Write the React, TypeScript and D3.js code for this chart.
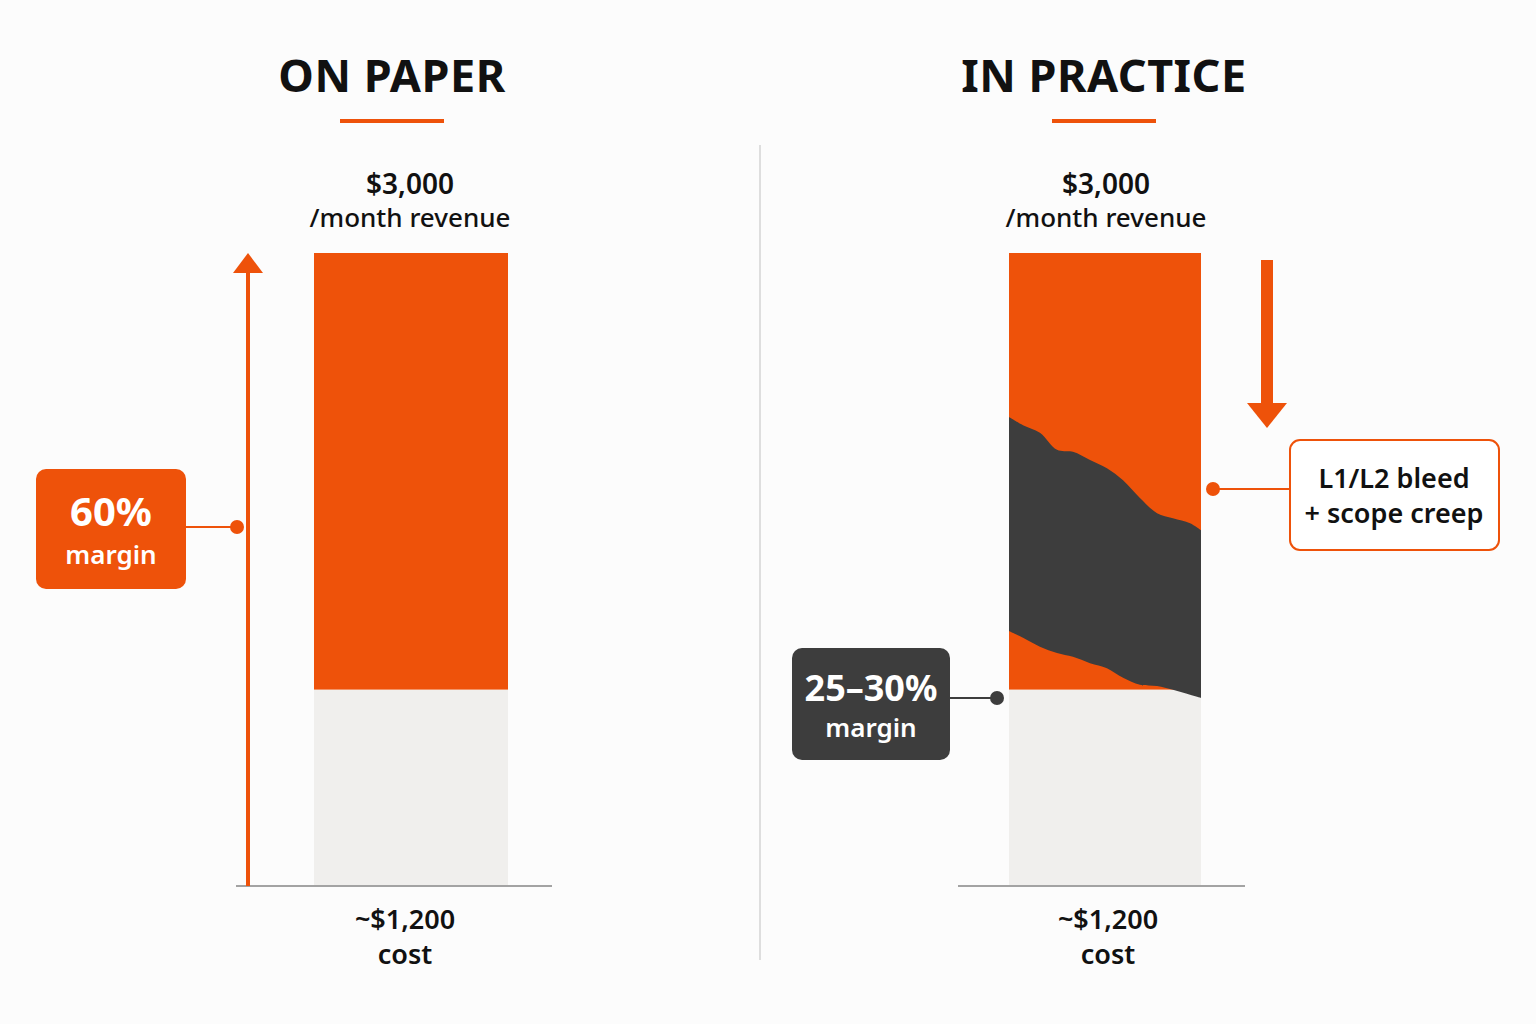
import React from "react";
import * as d3 from "d3";

// ---- data ----
const panels = ["ON PAPER", "IN PRACTICE"];
const revenueLabel = ["$3,000", "/month revenue"];
const costLabel = ["~$1,200", "cost"];
// bar composition, % of bar height
const costShare = 31;
const barTotal = 100;
const paperMargin = ["60%", "margin"];
const practiceMargin = ["25–30%", "margin"];
const leakLabel = ["L1/L2 bleed", "+ scope creep"];
// leak band edges: x as fraction of bar width, y as % of bar height
const leakX = [0, 0.073, 0.161, 0.25, 0.333, 0.422, 0.51, 0.594, 0.682, 0.771, 0.854, 0.943, 1];
const leakTop = [74.1, 72.8, 71.6, 68.9, 68.6, 67.3, 66.0, 64.1, 61.3, 58.9, 58.1, 57.3, 56.2];
const leakBottom = [40.3, 39.2, 37.8, 36.8, 36.2, 35.2, 34.4, 32.9, 31.8, 31.6, 31.0, 30.2, 29.7];

const ORANGE = "#ee520a";
const DARK = "#3d3d3d";
const LIGHT = "#f0efed";
const FONT = "'Noto Sans', 'Open Sans', sans-serif";

export default function App() {
  const W = 1536, H = 1024;
  const y = d3.scaleLinear().domain([0, barTotal]).range([886, 253]);
  const leftBar = d3.scaleLinear().domain([0, 1]).range([314, 508]);
  const rightBar = d3.scaleLinear().domain([0, 1]).range([1009, 1201]);

  const leakData = leakX.map((x, i) => ({ x, t: leakTop[i], b: leakBottom[i] }));
  const area = d3
    .area<{ x: number; t: number; b: number }>()
    .x((d) => rightBar(d.x))
    .y0((d) => y(d.b))
    .y1((d) => y(d.t))
    .curve(d3.curveCatmullRom);

  const titleX = [392, 1104];
  const labelX = [[410, 1106], [405, 1108]];

  const bar = (xs: d3.ScaleLinear<number, number>) => (
    <g>
      <rect x={xs(0)} y={y(barTotal)} width={xs(1) - xs(0)} height={y(costShare) - y(barTotal)} fill={ORANGE} />
      <rect x={xs(0)} y={y(costShare)} width={xs(1) - xs(0)} height={y(0) - y(costShare)} fill={LIGHT} />
    </g>
  );

  return (
    <svg width={W} height={H} style={{ position: "absolute", left: 0, top: 0, fontFamily: FONT }}>
      <rect width={W} height={H} fill="#fcfcfc" />
      {panels.map((p, i) => (
        <g key={p}>
          <text x={titleX[i]} y={92} textAnchor="middle" fontSize={45} fontWeight={700} fill="#111" letterSpacing={0.5}>
            {p}
          </text>
          <rect x={titleX[i] - 52} y={119} width={104} height={4} fill={ORANGE} />
          <text x={labelX[0][i]} y={194} textAnchor="middle" fontSize={28} fontWeight={600} fill="#111">{revenueLabel[0]}</text>
          <text x={labelX[0][i]} y={227} textAnchor="middle" fontSize={26} fontWeight={500} fill="#111">{revenueLabel[1]}</text>
          <text x={labelX[1][i]} y={929} textAnchor="middle" fontSize={27} fontWeight={600} fill="#111">{costLabel[0]}</text>
          <text x={labelX[1][i]} y={964} textAnchor="middle" fontSize={27} fontWeight={600} fill="#111">{costLabel[1]}</text>
        </g>
      ))}

      {/* divider */}
      <line x1={760} x2={760} y1={145} y2={960} stroke="#dedede" strokeWidth={2} />

      {/* left panel */}
      {bar(leftBar)}
      <line x1={236} x2={552} y1={y(0)} y2={y(0)} stroke="#a3a3a3" strokeWidth={2} />
      <line x1={248} x2={248} y1={y(0)} y2={y(barTotal) + 18} stroke={ORANGE} strokeWidth={4} />
      <path d={`M248,${y(barTotal)} L263,${y(barTotal) + 20} L233,${y(barTotal) + 20} Z`} fill={ORANGE} />
      <line x1={186} x2={237} y1={527} y2={527} stroke={ORANGE} strokeWidth={2} />
      <circle cx={237} cy={527} r={7} fill={ORANGE} />
      <rect x={36} y={469} width={150} height={120} rx={10} fill={ORANGE} />
      <text x={111} y={526} textAnchor="middle" fontSize={40} fontWeight={700} fill="#fff">{paperMargin[0]}</text>
      <text x={111} y={564} textAnchor="middle" fontSize={26} fontWeight={600} fill="#fff">{paperMargin[1]}</text>

      {/* right panel */}
      {bar(rightBar)}
      <path d={area(leakData) || ""} fill={DARK} />
      <line x1={958} x2={1245} y1={y(0)} y2={y(0)} stroke="#a3a3a3" strokeWidth={2} />
      <rect x={1261} y={260} width={12} height={146} fill={ORANGE} />
      <path d="M1247,403 L1287,403 L1267,428 Z" fill={ORANGE} />
      <line x1={1213} x2={1290} y1={489} y2={489} stroke={ORANGE} strokeWidth={2} />
      <circle cx={1213} cy={489} r={7} fill={ORANGE} />
      <rect x={1290} y={440} width={209} height={110} rx={10} fill="#fff" stroke={ORANGE} strokeWidth={2} />
      <text x={1394} y={488} textAnchor="middle" fontSize={27} fontWeight={600} fill="#111">{leakLabel[0]}</text>
      <text x={1394} y={523} textAnchor="middle" fontSize={27} fontWeight={600} fill="#111">{leakLabel[1]}</text>

      <line x1={950} x2={997} y1={698} y2={698} stroke={DARK} strokeWidth={2} />
      <circle cx={997} cy={698} r={7} fill={DARK} />
      <rect x={792} y={648} width={158} height={112} rx={10} fill={DARK} />
      <text x={871} y={701} textAnchor="middle" fontSize={36} fontWeight={700} fill="#fff">{practiceMargin[0]}</text>
      <text x={871} y={737} textAnchor="middle" fontSize={26} fontWeight={600} fill="#fff">{practiceMargin[1]}</text>
    </svg>
  );
}
